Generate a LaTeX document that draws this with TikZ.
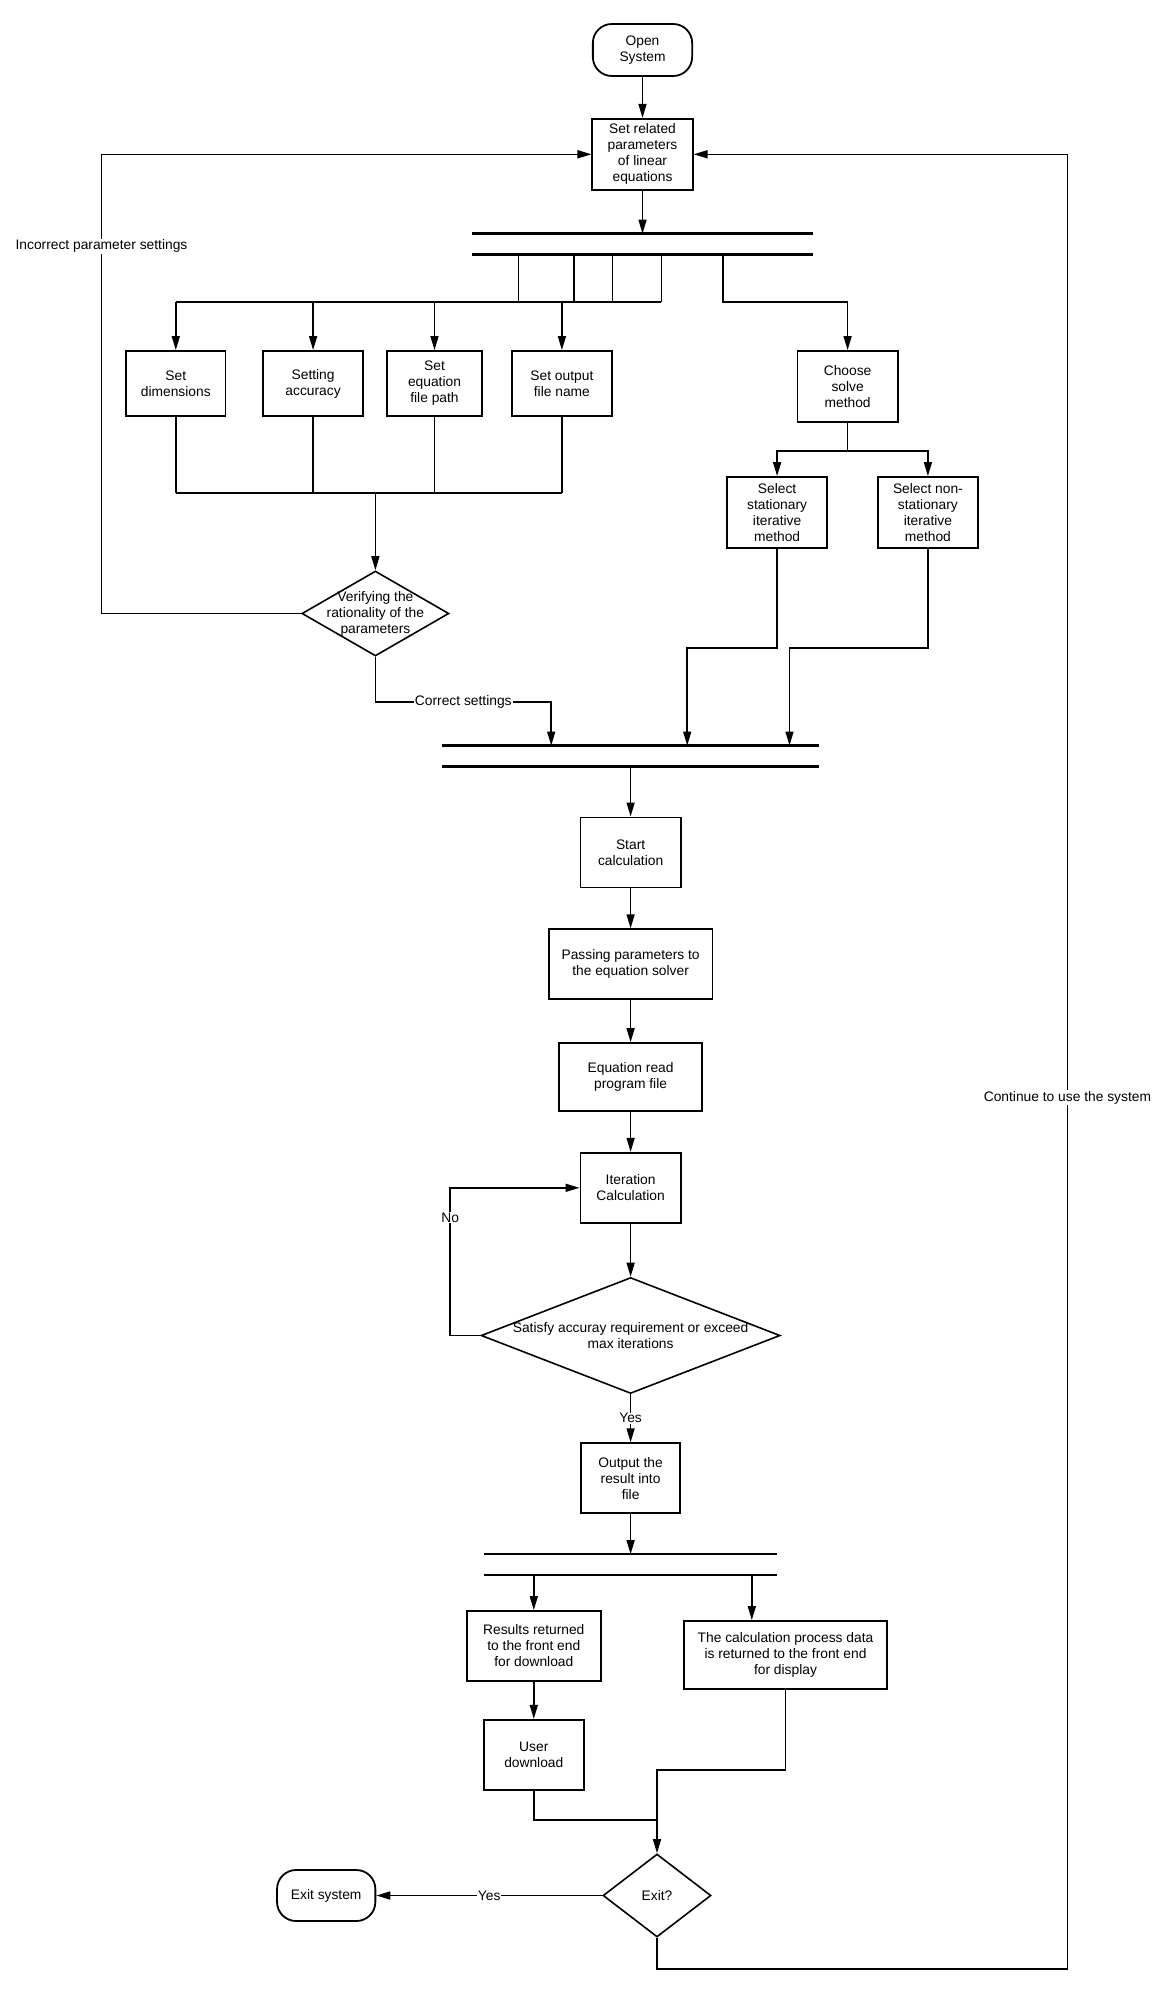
\documentclass[tikz,border=0pt]{standalone}
\usepackage{fontspec}
\setmainfont{Liberation Sans}
\usetikzlibrary{arrows.meta,positioning,shapes.geometric}
\newcommand{\fs}{\fontsize{13.8}{16}\selectfont}
\newcommand{\barpair}[1]{\draw[barline] (#1.north west) -- (#1.north east) (#1.south west) -- (#1.south east);}

\begin{document}
\begin{tikzpicture}[x=1pt, y=-1pt,
  box/.style={draw, line width=1.8pt, align=center, font=\fs, inner sep=2pt, minimum width=100.3pt, minimum height=70pt},
  term/.style={box, rounded corners=19pt, minimum width=99.3pt, minimum height=52pt},
  dec/.style={draw, diamond, line width=1.6pt, inner sep=0pt},
  dtext/.style={font=\fs, align=center},
  fork/.style={inner sep=0pt, outer sep=0pt, minimum height=21pt},
  barline/.style={line width=2.6pt},
  conn/.style={line width=1.5pt},
  arr/.style={conn, -{Triangle[length=14pt, width=8pt]}},
  lbl/.style={font=\fs, fill=white, inner sep=1pt},
]
  \useasboundingbox (0,0) rectangle (1168,1993);

  % top: open, parameters, first fork
  \node[term] (open) at (642.5,50) {Open\\System};
  \node[box, below=41pt of open, minimum height=71pt] (setpar) {Set related\\parameters\\of linear\\equations};
  \node[fork, below=43pt of setpar, minimum width=341.6pt] (fork1) {};
  \barpair{fork1}

  % parameter boxes
  \coordinate (dist) at (661.4,302);
  \coordinate (gather) at (374.4,493);
  \node[box, minimum width=99.3pt, minimum height=65pt] (dim) at (175.8,383.5) {Set\\dimensions};
  \node[box, right=35.7pt of dim, minimum height=65pt] (acc) {Setting\\accuracy};
  \node[box, right=21.8pt of acc, minimum width=95.3pt, minimum height=65pt] (fpath) {Set\\equation\\file path};
  \node[box, right=27.8pt of fpath, minimum height=65pt] (outname) {Set output\\file name};

  % method choice
  \node[box, minimum height=71pt] (choose) at (847.6,386.5) {Choose\\solve\\method};
  \node[box, minimum height=71pt] (stat) at (777.1,512.5) {Select\\stationary\\iterative\\method};
  \node[box, right=48.7pt of stat, minimum height=71pt] (nonstat) {Select non-\\stationary\\iterative\\method};

  \node[dec, minimum width=147pt, minimum height=85pt,
    label={[dtext]center:{Verifying the\\rationality of the\\parameters}}] (verify) at (375.4,613.5) {};

  % main column
  \node[fork, minimum width=377.4pt] (fork2) at (630.6,756) {};
  \barpair{fork2}
  \node[box, below=50pt of fork2] (start) {Start\\calculation};
  \node[box, below=40pt of start, minimum width=163.9pt] (pass) {Passing parameters to\\the equation solver};
  \node[box, below=42pt of pass, minimum width=143pt, minimum height=68pt] (read) {Equation read\\program file};
  \node[box, below=40pt of read] (iter) {Iteration\\Calculation};
  \node[dec, below=53pt of iter, minimum width=299pt, minimum height=116pt,
    label={[dtext]center:{Satisfy accuray requirement or exceed\\max iterations}}] (satisfy) {};
  \node[box, below=48pt of satisfy, minimum width=99.3pt] (output) {Output the\\result into\\file};
  \node[fork, below=40pt of output, minimum width=293pt] (fork3) {};
  \barpair{fork3}

  % results and exit
  \node[box, minimum width=134pt] (results) at (533.8,1646) {Results returned\\to the front end\\for download};
  \node[box, minimum width=202.6pt, minimum height=68pt] (calcdata) at (785.5,1655) {The calculation process data\\is returned to the front end\\for display};
  \node[box, below=37pt of results] (user) {User\\download};
  \node[dec, minimum width=108pt, minimum height=83pt, label={[dtext]center:Exit?}] (exitq) at (657,1895.5) {};
  \node[term, minimum width=98.3pt, minimum height=51pt] (exitsys) at (326.2,1895.5) {Exit system};

  % connectors, top part
  \draw[arr] (open) -- (setpar);
  \draw[arr] (setpar) -- (fork1.north);
  \foreach \x in {518.4,574.0,612.7,661.4}
    \draw[conn] (fork1.south -| \x,0) -- (\x,0 |- dist);
  \draw[conn] (dim.north |- dist) -- (dist);
  \foreach \b in {dim,acc,fpath,outname}
    \draw[arr] (\b.north |- dist) -- (\b.north);
  \draw[arr] (fork1.south -| 723,0) -- (723,0 |- dist) -| (choose.north);
  \draw[conn] (choose.south) -- ++(0,28) coordinate (split);
  \draw[arr] (split) -| (stat.north);
  \draw[arr] (split) -| (nonstat.north);

  \foreach \b in {dim,acc,fpath,outname}
    \draw[conn] (\b.south) -- (\b.south |- gather);
  \draw[conn] (dim.south |- gather) -- (outname.south |- gather);
  \draw[arr] (verify.north |- gather) -- (verify.north);

  \draw[arr] (verify.west) -- ++(-199.6,0) |- node[lbl, pos=0.4] {Incorrect parameter settings} (setpar.west);
  \draw[arr] (verify.south) -- ++(0,45) -| node[lbl, pos=0.25] {Correct settings} ([xshift=-79.4pt]fork2.north);
  \draw[arr] (stat.south) -- ++(0,99) -| ([xshift=56.6pt]fork2.north);
  \draw[arr] (nonstat.south) -- ++(0,99) -| ([xshift=158.9pt]fork2.north);

  % connectors, main column
  \draw[arr] (fork2.south) -- (start);
  \draw[arr] (start) -- (pass);
  \draw[arr] (pass) -- (read);
  \draw[arr] (read) -- (iter);
  \draw[arr] (iter) -- (satisfy);
  \draw[arr] (satisfy.west) -- ++(-30.2,0) |- node[lbl, pos=0.4] {No} (iter.west);
  \draw[arr] (satisfy) -- node[lbl] {Yes} (output);
  \draw[arr] (output) -- (fork3.north);

  % connectors, bottom part
  \draw[arr] (fork3.south -| results.north) -- (results.north);
  \draw[arr] (fork3.south -| 751.8,0) -- (751.8,0 |- calcdata.north);
  \draw[arr] (results) -- (user);
  \draw[conn] (user.south) |- ([yshift=33pt]exitq.north);
  \draw[arr] (calcdata.south) |- ([yshift=83pt]exitq.north) -- (exitq.north);
  \draw[arr] (exitq.west) -- node[lbl] {Yes} (exitsys.east);
  \draw[arr] (exitq.south) -- ++(0,31) -| node[lbl, pos=0.74] {Continue to use the system} ([xshift=373.9pt]setpar.east) -- (setpar.east);
\end{tikzpicture}
\end{document}
